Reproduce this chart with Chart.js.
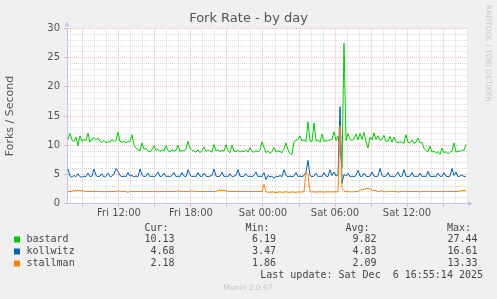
<!DOCTYPE html>
<html>
<head>
<meta charset="utf-8">
<script src="https://cdn.jsdelivr.net/npm/chart.js@4/dist/chart.umd.min.js"></script>
<style>
html,body{margin:0;padding:0;background:#f0f0f0;}
#wrap{width:497px;height:299px;}
</style>
</head>
<body>
<div id="wrap"><canvas id="c" width="497" height="299"></canvas></div>
<script>
// ---- data (10-minute samples; hours relative to Fri 12:00) ----
const firstSampleHour = -4.25;
const sampleStepHours = 1 / 6;

const bastard = [
11.0,12.0,10.9,10.6,11.4,9.9,11.6,10.7,11.0,10.8,
12.1,10.5,11.0,11.3,10.9,11.2,10.6,10.5,10.8,10.4,
10.6,10.5,11.0,10.6,10.8,12.2,10.6,10.5,10.7,10.4,
10.6,10.6,11.8,10.0,9.5,9.2,9.0,10.4,9.3,9.4,
9.0,8.9,9.2,9.9,9.1,9.3,8.9,9.2,9.0,9.9,
9.1,8.8,9.2,9.0,9.1,10.0,8.9,9.1,9.0,9.3,
10.7,9.5,9.1,9.0,8.8,9.2,8.7,9.1,9.7,8.9,
9.2,9.0,8.8,10.1,9.0,9.2,8.9,9.1,9.0,10.1,
9.0,8.7,10.0,9.0,8.9,9.1,8.8,9.0,8.9,9.2,
8.8,9.6,8.9,8.8,9.0,8.9,9.1,10.6,9.6,8.7,
9.0,8.6,8.9,9.6,8.8,9.0,8.9,8.7,9.4,10.4,
9.2,8.6,8.4,10.6,10.8,11.0,11.6,10.7,10.9,10.6,
14.0,10.8,10.6,13.8,10.7,10.9,10.5,11.9,10.6,10.8,
10.7,10.9,11.0,12.3,10.8,11.5,10.0,6.19,27.44,10.8,
12.0,11.0,10.8,11.1,11.9,10.9,12.0,11.0,12.2,10.6,
9.5,11.4,10.9,12.1,11.0,11.6,10.8,11.0,11.7,10.6,
10.7,11.5,10.5,11.4,10.6,10.4,10.6,10.5,10.3,11.8,
10.5,10.4,10.9,10.3,10.5,11.2,10.4,10.5,9.4,9.1,
8.9,9.8,8.8,9.0,8.6,8.9,8.4,9.5,8.7,8.9,
8.5,8.8,9.0,10.4,8.8,9.0,8.9,9.2,9.1,10.13
];

const kollwitz = [
5.9,4.7,4.5,4.8,4.6,5.1,4.6,4.5,4.7,4.6,
5.2,4.6,4.7,5.9,4.8,4.6,4.7,5.1,4.5,4.7,
5.2,4.6,4.7,5.0,6.0,5.5,4.8,4.6,4.7,4.6,
5.3,4.7,4.8,4.6,4.7,4.6,5.9,4.9,4.6,4.7,
5.2,4.6,4.7,4.6,4.8,5.4,4.6,4.7,5.2,4.6,
4.7,4.6,4.8,5.3,4.6,4.7,4.6,5.3,4.7,4.6,
5.8,4.9,4.6,4.7,4.6,5.3,4.7,4.6,5.2,4.7,
4.6,4.7,4.8,5.9,4.7,4.6,4.7,5.4,4.6,4.7,
4.6,5.1,4.6,4.7,4.8,5.8,4.7,4.6,4.7,5.1,
4.6,4.7,4.6,4.8,5.4,4.6,4.7,4.6,5.3,4.1,
4.8,4.6,4.7,4.3,4.7,4.6,4.8,4.6,5.8,4.8,
4.6,4.7,4.6,4.7,5.3,4.6,4.7,4.6,4.8,5.4,
7.4,4.8,4.6,4.7,5.2,4.6,4.7,4.6,5.3,4.7,
4.6,5.8,4.8,5.4,4.7,4.9,16.61,3.47,5.0,4.7,
5.2,4.6,4.7,4.6,4.8,5.7,4.7,4.6,5.2,4.7,
4.6,4.7,5.4,4.7,4.6,4.7,6.0,4.8,4.6,4.7,
5.3,4.6,4.7,4.6,4.8,5.4,4.6,4.7,5.8,4.7,
4.6,4.7,5.3,4.6,4.7,4.6,5.2,4.6,4.7,4.6,
5.5,4.7,4.6,4.7,4.6,5.2,4.7,4.6,5.3,4.7,
4.6,4.7,6.0,4.8,5.4,4.6,4.7,4.9,4.6,4.68
];

const stallman = [
2.05,2.05,2.1,2.2,2.2,2.25,2.2,2.2,2.15,2.05,
2.05,2.05,2.05,2.05,2.05,2.05,2.05,2.05,2.0,2.05,
2.05,2.05,2.05,2.05,2.05,2.2,2.05,2.05,2.05,2.05,
1.9,2.05,2.05,2.05,2.05,2.05,2.05,2.05,2.05,2.05,
2.05,2.05,2.05,2.05,2.05,2.0,2.05,2.05,2.05,2.05,
2.05,2.05,2.05,2.05,2.05,2.2,2.05,2.05,2.05,2.05,
2.05,2.05,2.2,2.05,2.05,2.05,2.05,2.05,2.05,2.05,
2.05,2.05,2.05,2.05,2.05,2.25,2.25,2.25,2.25,2.2,
2.05,2.05,2.05,2.05,2.05,2.05,2.05,2.05,2.05,2.05,
2.05,2.05,2.05,2.05,2.05,2.05,2.05,2.05,3.3,2.0,
1.95,1.9,2.0,1.95,1.86,1.95,2.0,1.9,1.95,2.0,
1.95,1.9,2.0,1.95,1.9,2.0,1.95,2.0,2.0,5.4,
5.0,2.0,2.0,2.0,1.95,2.0,2.0,2.0,1.95,2.0,
2.0,2.0,2.0,2.0,2.0,2.0,13.33,2.6,2.2,2.0,
2.05,2.0,2.0,2.0,2.05,2.05,2.3,2.35,2.4,2.55,
2.6,2.55,2.3,2.2,2.25,2.0,2.05,2.2,2.05,2.0,
2.05,2.05,2.1,2.05,2.05,1.95,2.05,2.05,2.05,2.1,
2.05,2.05,2.05,2.05,2.05,2.05,2.0,2.05,2.05,2.05,
2.1,2.05,2.05,2.05,2.05,2.05,2.05,2.1,2.05,2.05,
2.05,2.05,2.05,2.05,2.05,2.05,2.2,2.2,2.25,2.18
];

const seriesNames = ['bastard', 'kollwitz', 'stallman'];
const seriesColors = ['#00cc00', '#0066b3', '#ff8000'];
const statCur = ['10.13', '4.68', '2.18'];
const statMin = ['6.19', '3.47', '1.86'];
const statAvg = ['9.82', '4.83', '2.09'];
const statMax = ['27.44', '16.61', '13.33'];
const statHeaders = ['Cur:', 'Min:', 'Avg:', 'Max:'];

const xTickHours = [0, 6, 12, 18, 24];
const xTickLabels = ['Fri 12:00', 'Fri 18:00', 'Sat 00:00', 'Sat 06:00', 'Sat 12:00'];
const yTickValues = [0, 5, 10, 15, 20, 25, 30];

const titleText = 'Fork Rate - by day';
const yTitleText = 'Forks / Second';
const lastUpdateText = 'Last update: Sat Dec  6 16:55:14 2025';
const footerText = 'Munin 2.0.67';
const sideText = 'RRDTOOL / TOBI OETIKER';

// ---- build ----
function toPoints(arr) {
  return arr.map((v, i) => ({x: firstSampleHour + i * sampleStepHours, y: v}));
}
const allSeries = [bastard, kollwitz, stallman];
const datasets = allSeries.map((arr, k) => ({
  label: seriesNames[k],
  data: toPoints(arr),
  borderColor: seriesColors[k],
  backgroundColor: seriesColors[k],
  borderWidth: 1,
  pointRadius: 0,
  tension: 0,
  fill: false,
  order: allSeries.length - 1 - k
}));

const MAJOR = 'rgba(235,130,130,0.55)';
const MINOR = 'rgba(200,200,200,0.65)';
const AXIS = '#c4c4f4';

const decor = {
  id: 'decor',
  beforeDraw(chart) {
    const {ctx, chartArea: a} = chart;
    ctx.save();
    ctx.fillStyle = '#f0f0f0';
    ctx.fillRect(0, 0, chart.width, chart.height);
    ctx.fillStyle = '#ffffff';
    ctx.fillRect(a.left, a.top, a.right - a.left, a.bottom - a.top);
    ctx.restore();
  },
  afterDraw(chart) {
    const {ctx, chartArea: a} = chart;
    ctx.save();
    // axis arrows
    ctx.fillStyle = AXIS;
    ctx.beginPath();
    ctx.moveTo(a.left - 2.5, a.top - 2);
    ctx.lineTo(a.left + 2.5, a.top - 2);
    ctx.lineTo(a.left, a.top - 7);
    ctx.closePath(); ctx.fill();
    ctx.beginPath();
    ctx.moveTo(a.right, a.bottom - 2.5);
    ctx.lineTo(a.right, a.bottom + 2.5);
    ctx.lineTo(a.right + 5, a.bottom);
    ctx.closePath(); ctx.fill();

    // title
    ctx.fillStyle = '#555';
    ctx.font = '13px "DejaVu Sans"';
    ctx.textAlign = 'center';
    ctx.textBaseline = 'middle';
    ctx.fillText(titleText, chart.width / 2, 19);

    // side text
    ctx.save();
    ctx.translate(487.5, 5);
    ctx.rotate(Math.PI / 2);
    ctx.fillStyle = '#c8c8c8';
    ctx.font = '7.5px "DejaVu Sans"';
    ctx.textAlign = 'left';
    ctx.textBaseline = 'middle';
    ctx.fillText(sideText, 0, 0);
    ctx.restore();

    // legend table
    ctx.font = '10px "DejaVu Sans Mono"';
    ctx.fillStyle = '#444';
    ctx.textBaseline = 'middle';
    const colRight = [174.5, 276, 376.5, 477.5];
    const headRight = [168.5, 269.5, 369.5, 471];
    ctx.textAlign = 'right';
    statHeaders.forEach((h, j) => ctx.fillText(h, headRight[j], 228.5));
    const rowY = [239.5, 251.5, 263.5];
    seriesNames.forEach((name, k) => {
      ctx.fillStyle = seriesColors[k];
      ctx.fillRect(14, rowY[k] - 3, 6, 6);
      ctx.fillStyle = '#444';
      ctx.textAlign = 'left';
      ctx.fillText(name, 26.5, rowY[k]);
      ctx.textAlign = 'right';
      [statCur, statMin, statAvg, statMax].forEach((col, j) => {
        ctx.fillText(col[k], colRight[j], rowY[k]);
      });
    });
    ctx.textAlign = 'right';
    ctx.fillText(lastUpdateText, 483, 275.5);

    // footer
    ctx.fillStyle = '#c4c4c4';
    ctx.font = '7.5px "DejaVu Sans"';
    ctx.textAlign = 'center';
    ctx.fillText(footerText, 248, 288);
    ctx.restore();
  }
};

function hourTicks(s) {
  const t = [];
  for (let h = Math.ceil(s.min); h <= Math.floor(s.max); h++) t.push({value: h});
  s.ticks = t;
}
function unitTicks(s) {
  const t = [];
  for (let v = 0; v <= 30; v++) t.push({value: v});
  s.ticks = t;
}

new Chart(document.getElementById('c'), {
  type: 'line',
  data: {datasets},
  plugins: [decor],
  options: {
    responsive: false,
    animation: false,
    events: [],
    layout: {padding: {left: 0, right: 29, top: 28.5, bottom: 79}},
    plugins: {legend: {display: false}, tooltip: {enabled: false}, title: {display: false}},
    scales: {
      x: {
        type: 'linear',
        min: -4.333,
        max: 29.083,
        afterBuildTicks: hourTicks,
        afterFit: s => { s.height = 16.5; },
        grid: {
          color: c => (c.tick && c.tick.value % 3 === 0) ? MAJOR : MINOR,
          tickColor: c => (c.tick && c.tick.value % 3 === 0) ? MAJOR : 'rgba(0,0,0,0)',
          tickLength: 3,
          lineWidth: 1
        },
        border: {display: true, color: AXIS, width: 1, dash: [1, 1]},
        ticks: {
          autoSkip: false,
          maxRotation: 0,
          padding: 1,
          color: '#555',
          font: {family: 'DejaVu Sans', size: 10},
          callback: v => {
            const k = xTickHours.indexOf(v);
            return k >= 0 ? xTickLabels[k] : '';
          }
        }
      },
      y: {
        type: 'linear',
        min: 0,
        max: 30,
        afterBuildTicks: unitTicks,
        afterFit: s => { s.width = 67; },
        grid: {
          color: c => (c.tick && c.tick.value % 5 === 0) ? MAJOR : MINOR,
          tickColor: c => (c.tick && c.tick.value % 5 === 0) ? MAJOR : 'rgba(0,0,0,0)',
          tickLength: 3,
          lineWidth: 1
        },
        border: {display: true, color: AXIS, width: 1, dash: [1, 1]},
        title: {
          display: true,
          text: yTitleText,
          color: '#555',
          font: {family: 'DejaVu Sans', size: 11},
          padding: {top: 4, bottom: 0}
        },
        ticks: {
          autoSkip: false,
          padding: 4,
          color: '#555',
          font: {family: 'DejaVu Sans', size: 10},
          callback: v => (yTickValues.indexOf(v) >= 0 ? String(v) : '')
        }
      }
    }
  }
});
</script>
</body>
</html>
